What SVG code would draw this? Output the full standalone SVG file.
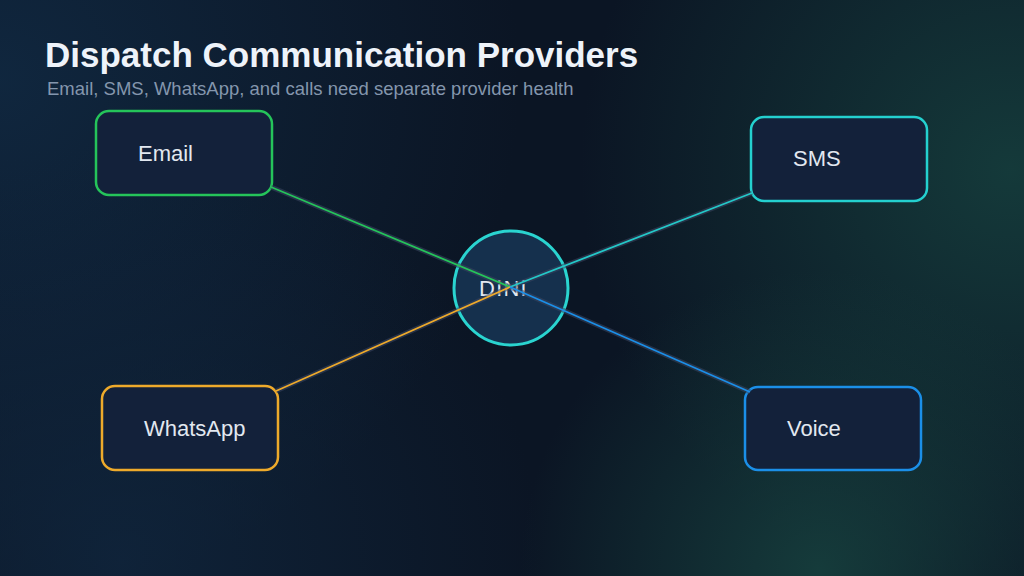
<svg xmlns="http://www.w3.org/2000/svg" width="1024" height="576" viewBox="0 0 1024 576">
<defs>
<radialGradient id="gTL" cx="0" cy="80" r="520" gradientUnits="userSpaceOnUse"><stop offset="0" stop-color="#112b45" stop-opacity="0.8"/><stop offset="1" stop-color="#112b45" stop-opacity="0"/></radialGradient>
<radialGradient id="gTR" cx="1010" cy="170" r="430" gradientUnits="userSpaceOnUse"><stop offset="0" stop-color="#16403e" stop-opacity="0.85"/><stop offset="1" stop-color="#16403e" stop-opacity="0"/></radialGradient>
<radialGradient id="gBR" cx="820" cy="570" r="300" gradientUnits="userSpaceOnUse"><stop offset="0" stop-color="#17423f" stop-opacity="0.85"/><stop offset="1" stop-color="#17423f" stop-opacity="0"/></radialGradient>
<radialGradient id="gBL" cx="120" cy="560" r="420" gradientUnits="userSpaceOnUse"><stop offset="0" stop-color="#10263e" stop-opacity="0.8"/><stop offset="1" stop-color="#10263e" stop-opacity="0"/></radialGradient>
</defs>
<style>
.node{fill:#13213a;stroke-width:2.5}
.lbl{font-family:"Liberation Sans",Arial,sans-serif;font-size:22px;fill:#e2e8f0}
.shadow{stroke:#3a4660;stroke-opacity:0.55;stroke-width:5;fill:none}
.edge{stroke-width:1.8;fill:none}
</style>
<rect width="1024" height="576" fill="#0b1524"/>
<rect width="1024" height="576" fill="url(#gTL)"/>
<rect width="1024" height="576" fill="url(#gBL)"/>
<rect width="1024" height="576" fill="url(#gTR)"/>
<rect width="1024" height="576" fill="url(#gBR)"/>

<text x="45" y="67" font-family="'Liberation Sans',Arial,sans-serif" font-size="35" font-weight="bold" fill="#eef3fa">Dispatch Communication Providers</text>
<text x="47" y="95" font-family="'Liberation Sans',Arial,sans-serif" font-size="18.5" fill="#8496ad">Email, SMS, WhatsApp, and calls need separate provider health</text>

<g id="hub">
<circle cx="511" cy="288" r="57" fill="#15304d" stroke="#2ad4d0" stroke-width="3"/>
<text x="479" y="296" class="lbl" textLength="47" lengthAdjust="spacing">DiNi</text>
</g>

<g id="node-email"><rect class="node" x="96" y="111" width="176" height="84" rx="13" stroke="#25c45a"/><text class="lbl" x="138" y="161">Email</text></g>
<g id="node-sms"><rect class="node" x="751" y="117" width="176" height="84" rx="13" stroke="#24d0cf"/><text class="lbl" x="793" y="166">SMS</text></g>
<g id="node-whatsapp"><rect class="node" x="102" y="386" width="176" height="84" rx="13" stroke="#eeaa2b"/><text class="lbl" x="144" y="436">WhatsApp</text></g>
<g id="node-voice"><rect class="node" x="745" y="387" width="176" height="83" rx="13" stroke="#1b8fe8"/><text class="lbl" x="787" y="436">Voice</text></g>

<g id="connectors">
<line class="shadow" x1="271" y1="187" x2="510" y2="287"/>
<line class="shadow" x1="752" y1="193" x2="510" y2="287"/>
<line class="shadow" x1="276" y1="391" x2="510" y2="287"/>
<line class="shadow" x1="750" y1="392" x2="510" y2="287"/>
<line class="edge" stroke="#25c45a" x1="271" y1="187" x2="510" y2="287"/>
<line class="edge" stroke="#24c8c8" x1="752" y1="193" x2="510" y2="287"/>
<line class="edge" stroke="#eeaa2b" x1="276" y1="391" x2="510" y2="287"/>
<line class="edge" stroke="#1b8fe8" x1="750" y1="392" x2="510" y2="287"/>
</g>
</svg>
